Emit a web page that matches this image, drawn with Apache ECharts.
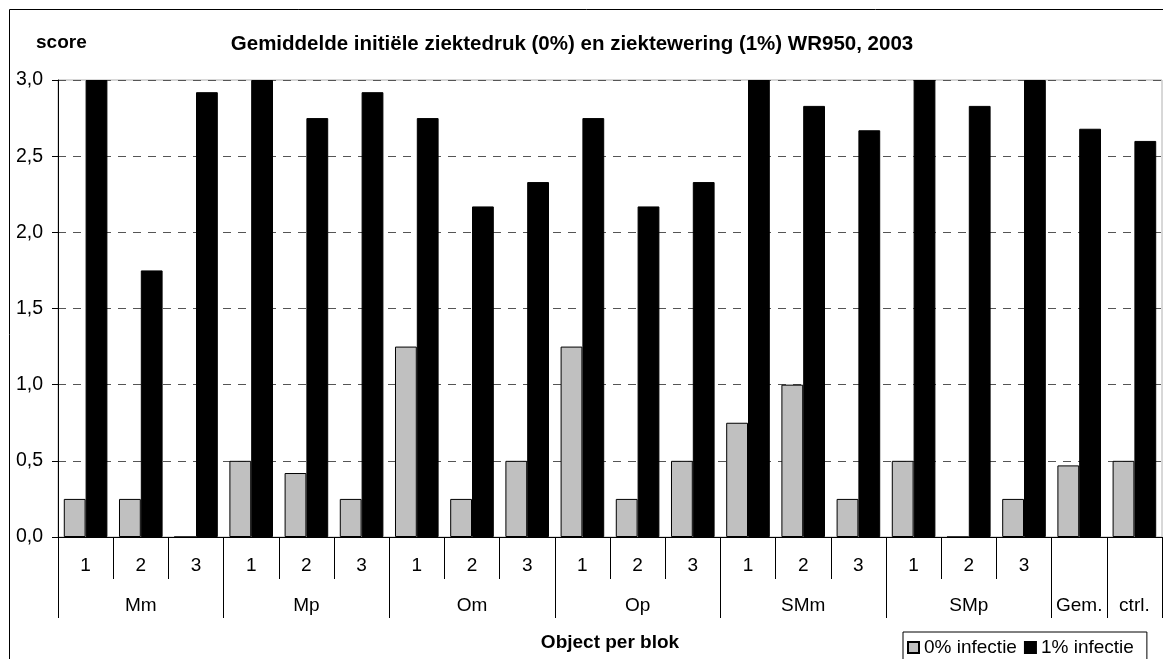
<!DOCTYPE html>
<html>
<head>
<meta charset="utf-8">
<title>Gemiddelde initiële ziektedruk en ziektewering WR950, 2003</title>
<script src="https://cdn.jsdelivr.net/npm/echarts@6/dist/echarts.min.js"></script>
<style>
  html, body { margin: 0; padding: 0; background: #fff; }
  #chart { width: 1163px; height: 659px; }
</style>
</head>
<body>
<div id="chart"></div>
<script>
// Treatments (groups) and blocks within each treatment
const groups = ['Mm', 'Mp', 'Om', 'Op', 'SMm', 'SMp'];
const blocks = ['1', '2', '3'];
const extras = ['Gem.', 'ctrl.'];

// Scores per object: 0% infection (initial disease pressure) and 1% infection (disease suppression)
const infection0 = [0.25, 0.25, 0, 0.5, 0.42, 0.25, 1.25, 0.25, 0.5, 1.25, 0.25, 0.5, 0.75, 1.0, 0.25, 0.5, 0, 0.25, 0.47, 0.5];
const infection1 = [3.0, 1.75, 2.92, 3.0, 2.75, 2.92, 2.75, 2.17, 2.33, 2.75, 2.17, 2.33, 3.0, 2.83, 2.67, 3.0, 2.83, 3.0, 2.68, 2.6];

const seriesNames = ['0% infectie', '1% infectie'];
const yTicks = [0, 0.5, 1.0, 1.5, 2.0, 2.5, 3.0];

// Category keys, block labels (first row) and group labels (second row)
const categories = [];
const blockLabels = [];
const groupLabels = [];
const groupStarts = [];
groups.forEach(g => {
  groupStarts.push(categories.length);
  blocks.forEach((b, i) => {
    categories.push(g + ' ' + b);
    blockLabels.push(b);
    groupLabels.push(i === 1 ? g : '');
  });
});
extras.forEach(e => {
  groupStarts.push(categories.length);
  categories.push(e);
  blockLabels.push('');
  groupLabels.push(e);
});

const FONT = '"Liberation Sans", Arial, sans-serif';
const chart = echarts.init(document.getElementById('chart'), null, { renderer: 'canvas' });

chart.setOption({
  backgroundColor: '#fff',
  animation: false,
  textStyle: { fontFamily: FONT, color: '#000' },
  graphic: [
    {
      type: 'rect', silent: true, z: -1,
      shape: { x: 9.5, y: 9.5, width: 1200, height: 700 },
      style: { fill: 'none', stroke: '#000', lineWidth: 1 }
    },
    {
      type: 'text', left: 36, top: 33,
      style: { text: 'score', font: 'bold 19px ' + FONT, fill: '#000' }
    },
    {
      type: 'text', x: 572, y: 44,
      style: {
        text: 'Gemiddelde initiële ziektedruk (0%) en ziektewering (1%) WR950, 2003',
        font: 'bold 20.5px ' + FONT, fill: '#000', align: 'center', verticalAlign: 'middle'
      }
    }
  ],
  legend: {
    left: 903, top: 632,
    orient: 'horizontal',
    data: seriesNames,
    icon: 'rect',
    itemWidth: 11, itemHeight: 11,
    itemGap: 7,
    padding: [6, 13, 6, 4],
    borderColor: '#000', borderWidth: 1,
    backgroundColor: '#fff',
    textStyle: { fontSize: 19, fontFamily: FONT, color: '#000' }
  },
  grid: {
    left: 58, right: 1, top: 80, bottom: 122,
    show: true, borderColor: '#b0b0b0', borderWidth: 1, backgroundColor: 'transparent'
  },
  xAxis: [
    {
      type: 'category',
      position: 'bottom',
      data: categories,
      axisLine: { show: true, lineStyle: { color: '#000', width: 1 } },
      axisTick: { show: true, interval: 0, length: 42, lineStyle: { color: '#000' } },
      axisLabel: {
        interval: 0, margin: 19, fontSize: 19, color: '#000', fontFamily: FONT,
        formatter: (v, i) => blockLabels[i]
      },
      splitLine: { show: false }
    },
    {
      type: 'category',
      position: 'bottom',
      data: categories,
      axisLine: { show: false },
      axisTick: {
        show: true, length: 81, lineStyle: { color: '#000' },
        interval: (i) => groupStarts.indexOf(i) >= 0
      },
      axisLabel: {
        interval: 0, margin: 59, fontSize: 19, color: '#000', fontFamily: FONT,
        formatter: (v, i) => groupLabels[i]
      },
      splitLine: { show: false },
      name: 'Object per blok',
      nameLocation: 'middle',
      nameGap: 96,
      nameTextStyle: { fontSize: 19, fontWeight: 'bold', color: '#000', fontFamily: FONT }
    }
  ],
  yAxis: {
    type: 'value',
    min: yTicks[0], max: yTicks[yTicks.length - 1], interval: 0.5,
    axisLine: { show: true, lineStyle: { color: '#000', width: 1 } },
    axisTick: { show: true, length: 6, lineStyle: { color: '#000' } },
    axisLabel: {
      margin: 15, fontSize: 19.5, color: '#000', fontFamily: FONT,
      formatter: v => v.toFixed(1).replace('.', ',')
    },
    splitLine: { show: true, lineStyle: { color: '#555', width: 1, type: [8, 7] } }
  },
  series: [
    {
      name: seriesNames[0], type: 'bar', xAxisIndex: 0,
      data: infection0,
      barGap: '0%', barCategoryGap: '21%',
      itemStyle: { color: '#c0c0c0', borderColor: '#000', borderWidth: 1 }
    },
    {
      name: seriesNames[1], type: 'bar', xAxisIndex: 0,
      data: infection1,
      barGap: '0%', barCategoryGap: '21%',
      itemStyle: { color: '#000', borderColor: '#000', borderWidth: 1 }
    }
  ]
});
</script>
</body>
</html>
